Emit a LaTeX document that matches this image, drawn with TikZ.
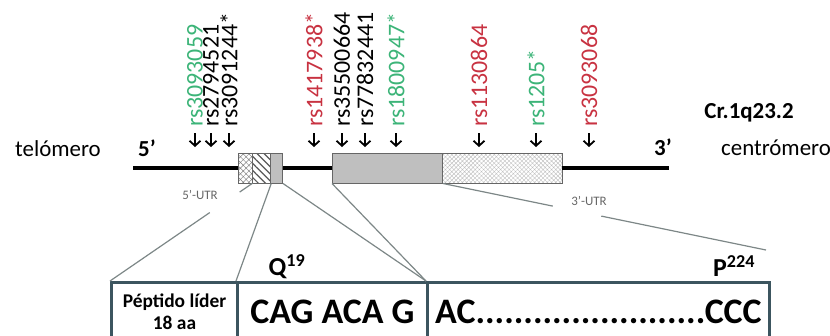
\documentclass[tikz,border=0pt]{standalone}
\usepackage{fontspec}
\setmainfont{Carlito}
\usetikzlibrary{arrows.meta,patterns.meta,calc}
\definecolor{snpgreen}{RGB}{60,180,120}
\definecolor{snpred}{RGB}{200,50,65}
\definecolor{framecol}{RGB}{60,85,95}
\definecolor{zoomgray}{RGB}{125,135,135}
\begin{document}
\begin{tikzpicture}[x=1bp,y=-1bp,
  snp/.style={rotate=90,anchor=west,inner sep=0pt,font=\fontsize{24}{24}\selectfont},
  snparrow/.style={-{Straight Barb[length=5bp,width=11bp,line width=1.8bp]},line width=1.8bp},
  exon/.style={draw=gray!80!black,line width=1bp,minimum height=30bp,inner sep=0pt,anchor=west},
  zoomline/.style={draw=zoomgray,line width=1.2bp},
  utr/.style={text=gray!80!black,font=\fontsize{13}{13}\selectfont},
  big/.style={font=\fontsize{23}{23}\selectfont},
  seqbox/.style={draw=framecol,line width=3bp,minimum height=58bp,anchor=north west,inner sep=0pt,font=\bfseries\fontsize{36}{36}\selectfont}]
\clip (0,0) rectangle (830,335);

% gene
\coordinate (g5) at (133,168);
\coordinate (g3) at (669,168);
\node[exon,minimum width=14bp,fill=white,pattern={Hatch[angle=45,distance=4bp,line width=0.5bp]},pattern color=gray] (u5) at (238,168) {};
\node[exon,minimum width=18bp,fill=white,pattern={Lines[angle=-45,distance=5bp,line width=1.2bp]},pattern color=gray!70!black] (sp) at (252,168) {};
\node[exon,minimum width=12bp,fill=gray!50] (e1) at (270,168) {};
\node[exon,minimum width=110bp,fill=gray!50] (e2) at (332,168) {};
\node[exon,minimum width=120bp,fill=white,pattern={Hatch[angle=45,distance=3bp,line width=0.4bp]},pattern color=gray!50] (u3) at (442,168) {};
\draw[line width=4bp] (g5) -- (u5.west);
\draw[line width=4bp] (e1.east) -- (e2.west);
\draw[line width=4bp] (u3.east) -- (g3);

\node[big] (tel) at (58,149) {telómero};
\node[big,font=\bfseries\fontsize{23}{23}\selectfont] (p5) at (147,148) {5’};
\node[big,font=\bfseries\fontsize{23}{23}\selectfont] (p3) at (663,147) {3’};
\node[big] (cen) at (776,148) {centrómero};
\node[font=\bfseries\fontsize{23}{23}\selectfont] (cr) at (749,113) {Cr.1q23.2};

% SNPs
\node[snp,snpgreen] (s1) at (195,127) {rs3093059};
\node[snp] (s2) at (211,127) {rs2794521};
\node[snp] (s3) at (229,127) {rs3091244*};
\node[snp,snpred] (s4) at (314,127) {rs1417938*};
\node[snp] (s5) at (342,127) {rs35500664};
\node[snp] (s6) at (365,127) {rs77832441};
\node[snp,snpgreen] (s7) at (396,127) {rs1800947*};
\node[snp,snpred] (s8) at (479,127) {rs1130864};
\node[snp,snpgreen] (s9) at (536,127) {rs1205*};
\node[snp,snpred] (s10) at (589,127) {rs3093068};

\draw[snparrow] ([yshift=-6bp]s1.west) -- ++(0,14);
\draw[snparrow] ([yshift=-6bp]s2.west) -- ++(0,14);
\draw[snparrow] ([yshift=-6bp]s3.west) -- ++(0,14);
\draw[snparrow] ([yshift=-6bp]s4.west) -- ++(0,14);
\draw[snparrow] ([yshift=-6bp]s5.west) -- ++(0,14);
\draw[snparrow] ([yshift=-6bp]s6.west) -- ++(0,14);
\draw[snparrow] ([yshift=-6bp]s7.west) -- ++(0,14);
\draw[snparrow] ([yshift=-6bp]s8.west) -- ++(0,14);
\draw[snparrow] ([yshift=-6bp]s9.west) -- ++(0,14);
\draw[snparrow] ([yshift=-6bp]s10.west) -- ++(0,14);

% sequence
\node[seqbox,minimum width=126bp,font=\bfseries\fontsize{19.5}{22}\selectfont,align=center] (pep) at (110,281) {Péptido líder\\18 aa};
\node[seqbox,minimum width=190bp] (cag) at (236,281) {CAG ACA G};
\node[seqbox,minimum width=342bp] (ac) at (426,281) {AC........................CCC};
\node[font=\bfseries\fontsize{26}{26}\selectfont] (q19) at (287,267) {Q\textsuperscript{19}};
\node[font=\bfseries\fontsize{26}{26}\selectfont] (p224) at (734,266) {P\textsuperscript{224}};

% zoom lines
\node[utr] (l5) at (200,195) {5’-UTR};
\node[utr] (l3) at (589,201) {3’-UTR};
\coordinate (zend) at (766,250);
\draw[zoomline] (pep.north west) -- ($(pep.north west)!0.70!(u5.south east)$);
\draw[zoomline] ($(pep.north west)!0.91!(u5.south east)$) -- (u5.south east);
\draw[zoomline] (sp.south east) -- (cag.north west);
\draw[zoomline] (e1.south east) -- (ac.north west);
\draw[zoomline] (e2.south west) -- (ac.north west);
\draw[zoomline] (e2.south east) -- ($(e2.south east)!0.34!(zend)$);
\draw[zoomline] ($(e2.south east)!0.49!(zend)$) -- (zend);
\end{tikzpicture}
\end{document}
